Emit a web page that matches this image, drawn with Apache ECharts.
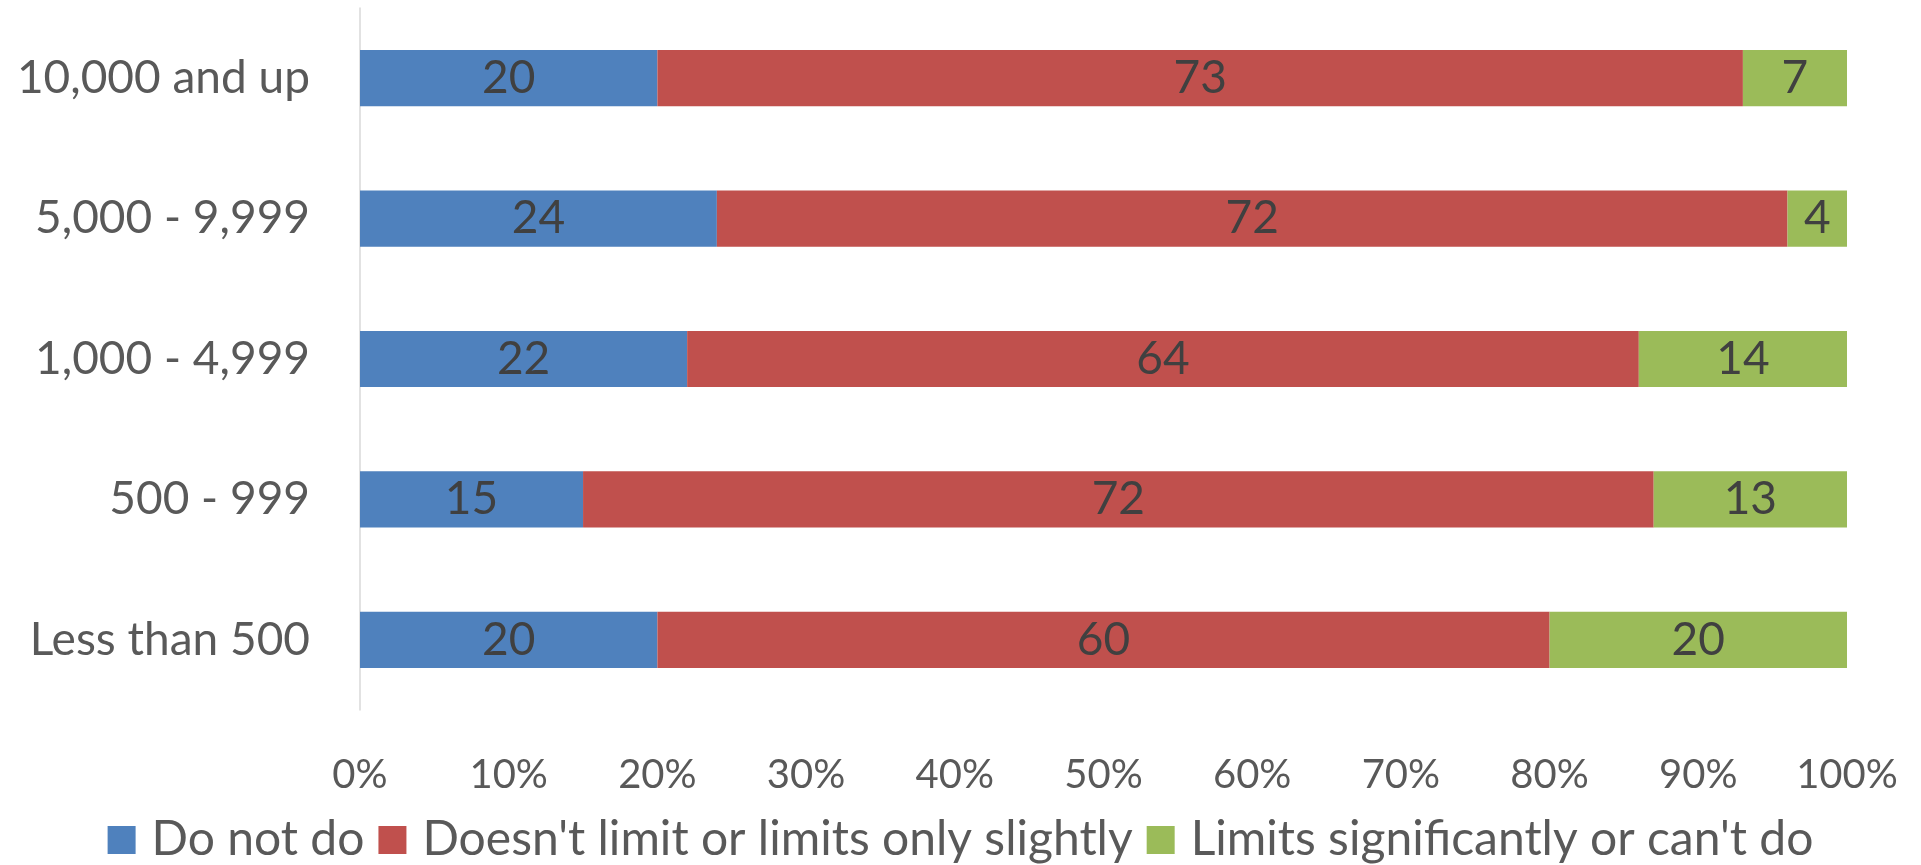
<!DOCTYPE html>
<html>
<head>
<meta charset="utf-8">
<script src="https://cdn.jsdelivr.net/npm/echarts@6/dist/echarts.min.js"></script>
<style>
html,body{margin:0;padding:0;background:#fff;}
#chart{width:1921px;height:865px;}
</style>
</head>
<body>
<div id="chart"></div>
<script>
const categories = ['Less than 500', '500 - 999', '1,000 - 4,999', '5,000 - 9,999', '10,000 and up'];
const seriesNames = ['Do not do', "Doesn't limit or limits only slightly", "Limits significantly or can't do"];
const doNotDo = [20, 15, 22, 24, 20];
const limitsSlightly = [60, 72, 64, 72, 73];
const limitsSignificantly = [20, 13, 14, 4, 7];
const xTicks = [0, 10, 20, 30, 40, 50, 60, 70, 80, 90, 100];
const colors = ['#4F81BD', '#C0504D', '#9BBB59'];

const FONT = 'Lato, "Open Sans", sans-serif';
const chart = echarts.init(document.getElementById('chart'));
const values = [doNotDo, limitsSlightly, limitsSignificantly];
chart.setOption({
  animation: false,
  textStyle: { fontFamily: FONT },
  grid: { left: 360, right: 74, top: 8, bottom: 155, containLabel: false },
  legend: {
    data: seriesNames,
    top: 811,
    left: 'center',
    itemWidth: 28,
    itemHeight: 28,
    itemGap: 14,
    icon: 'rect',
    textStyle: { fontSize: 48, color: '#595959', fontFamily: FONT, padding: [0, 0, 0, 11] }
  },
  xAxis: {
    type: 'value',
    min: xTicks[0],
    max: xTicks[xTicks.length - 1],
    interval: 10,
    axisLine: { show: false },
    axisTick: { show: false },
    splitLine: { show: false },
    axisLabel: { formatter: v => v + '%', fontSize: 40, color: '#595959', margin: 45, fontFamily: FONT }
  },
  yAxis: {
    type: 'category',
    data: categories,
    axisLine: { show: true, lineStyle: { color: '#D9D9D9', width: 1.5 } },
    axisTick: { show: false },
    axisLabel: { fontSize: 46, color: '#595959', margin: 50, fontFamily: FONT }
  },
  series: values.map((vals, i) => ({
    name: seriesNames[i],
    type: 'bar',
    stack: 'total',
    barWidth: '40%',
    data: vals,
    itemStyle: { color: colors[i] },
    label: { show: true, position: 'inside', fontSize: 46, color: '#404040', fontFamily: FONT }
  }))
});
</script>
</body>
</html>
